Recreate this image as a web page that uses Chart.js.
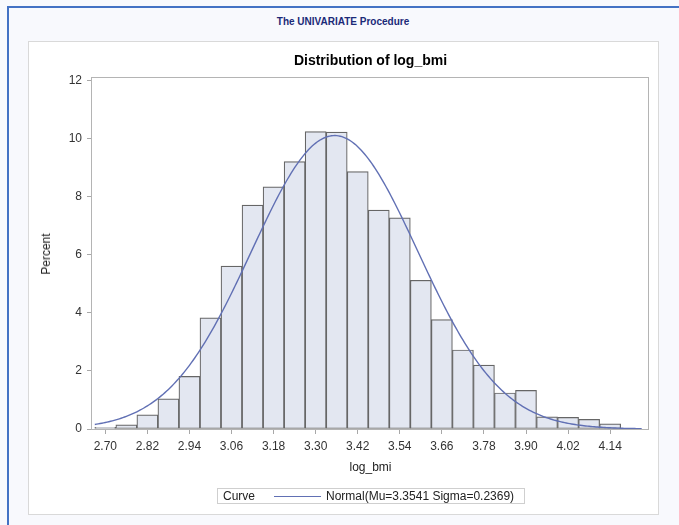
<!DOCTYPE html>
<html>
<head>
<meta charset="UTF-8">
<title>Distribution of log_bmi</title>
<script src="https://cdn.jsdelivr.net/npm/chart.js"></script>
<style>
  body { margin: 0; width: 679px; height: 525px; overflow: hidden; position: relative;
         background: #f8f9fd; font-family: "Liberation Sans", Arial, sans-serif; }
  .frame { position: absolute; left: 7px; top: 6px; right: 0; bottom: 0;
           border-top: 2px solid #4472c4; border-left: 2px solid #4472c4; }
  .proc { position: absolute; top: 16px; left: 0; width: 686px; text-align: center;
          font-size: 10px; font-weight: bold; color: #1b2a78; }
  .panel { position: absolute; left: 28px; top: 41px; width: 629px; height: 472px;
           border: 1px solid #d9d9d9; background: #fff; }
  .panel canvas { position: absolute; left: 0; top: 0; }
  .title { position: absolute; left: 0; top: 9px; width: 683px; text-align: center;
           font-size: 14px; font-weight: bold; color: #000; line-height: 18px; }
  .ylab { position: absolute; left: 17px; top: 212px; width: 0; height: 0; }
  .ylab span { position: absolute; transform: translate(-50%, -50%) rotate(-90deg);
               white-space: nowrap; font-size: 12px; color: #222; }
  .xlab { position: absolute; left: 0; top: 418px; width: 683px; text-align: center;
          font-size: 12px; color: #222; }
  .legend { position: absolute; left: 188px; top: 446px; width: 306px; height: 14px;
            border: 1px solid #cfcfcf; font-size: 12px; color: #222; line-height: 14px; }
  .legend .k { position: absolute; left: 5px; top: 0; }
  .legend .ln { position: absolute; left: 56px; top: 7px; width: 47px; height: 0;
                border-top: 1px solid #6170b4; }
  .legend .v { position: absolute; left: 108px; top: 0; white-space: nowrap; }
</style>
</head>
<body>
<div class="frame"></div>
<div class="proc">The UNIVARIATE Procedure</div>
<div class="panel">
  <canvas id="hist" width="629" height="472"></canvas>
  <div class="title">Distribution of log_bmi</div>
  <div class="ylab"><span>Percent</span></div>
  <div class="xlab">log_bmi</div>
  <div class="legend">
    <span class="k">Curve</span><span class="ln"></span>
    <span class="v">Normal(Mu=3.3541 Sigma=0.2369)</span>
  </div>
</div>
<script>
  // histogram bins (midpoints) and percent of observations in each
  const binMid = [2.70, 2.76, 2.82, 2.88, 2.94, 3.00, 3.06, 3.12, 3.18, 3.24, 3.30, 3.36, 3.42,
                  3.48, 3.54, 3.60, 3.66, 3.72, 3.78, 3.84, 3.90, 3.96, 4.02, 4.08, 4.14];
  const percent = [0.06, 0.14, 0.49, 1.04, 1.81, 3.83, 5.61, 7.71, 8.34, 9.21, 10.24, 10.22, 8.86,
                   7.54, 7.27, 5.12, 3.77, 2.72, 2.20, 1.24, 1.33, 0.42, 0.40, 0.33, 0.18];
  const binWidth = 0.06;

  // fitted normal curve
  const mu = 3.3541;
  const sigma = 0.2369;

  const xTicks = [2.70, 2.82, 2.94, 3.06, 3.18, 3.30, 3.42, 3.54, 3.66, 3.78, 3.90, 4.02, 4.14];
  const yTicks = [0, 2, 4, 6, 8, 10, 12];

  // normal density scaled to percent per bin
  const curve = [];
  for (let x = 2.67; x <= 4.231; x += 0.005) {
    const z = (x - mu) / sigma;
    const d = Math.exp(-0.5 * z * z) / (sigma * Math.sqrt(2 * Math.PI));
    curve.push({ x: x, y: 100 * binWidth * d });
  }

  const plotFrame = {
    id: 'plotFrame',
    beforeDatasetsDraw(chart) {
      const a = chart.chartArea;
      const c = chart.ctx;
      c.save();
      c.strokeStyle = '#b4b4b4';
      c.lineWidth = 1;
      c.strokeRect(Math.round(a.left) - 0.5, Math.round(a.top) + 0.5,
                   Math.round(a.right - a.left) + 1, Math.round(a.bottom - a.top));
      c.restore();
    }
  };

  const tickFont = { family: '"Liberation Sans", Arial, sans-serif', size: 12 };

  new Chart(document.getElementById('hist'), {
    type: 'bar',
    data: {
      datasets: [{
        type: 'line',
        data: curve,
        borderColor: '#6170b4',
        borderWidth: 1.4,
        pointRadius: 0,
        tension: 0,
        order: 0
      }, {
        type: 'bar',
        data: binMid.map((m, i) => ({ x: m, y: percent[i] })),
        backgroundColor: '#e3e7f1',
        borderColor: '#666666',
        borderWidth: 1.2,
        borderSkipped: false,
        barPercentage: 1,
        categoryPercentage: 1,
        order: 1
      }]
    },
    options: {
      responsive: false,
      animation: false,
      events: [],
      layout: { padding: { left: 0, top: 35, right: 10, bottom: 0 } },
      plugins: { legend: { display: false }, tooltip: { enabled: false }, title: { display: false } },
      scales: {
        x: {
          type: 'linear',
          min: 2.662,
          max: 4.248,
          offset: false,
          afterFit(s) { s.height = 85; },
          afterBuildTicks(s) { s.ticks = xTicks.map(v => ({ value: v })); },
          border: { display: false },
          grid: { display: true, drawOnChartArea: false, tickLength: 5, color: '#a8a8a8', offset: false },
          ticks: { font: tickFont, color: '#333', padding: 5, maxRotation: 0,
                   callback: v => v.toFixed(2) }
        },
        y: {
          min: 0,
          max: 12.12,
          afterFit(s) { s.width = 63; },
          afterBuildTicks(s) { s.ticks = yTicks.map(v => ({ value: v })); },
          border: { display: false },
          grid: { display: true, drawOnChartArea: false, tickLength: 5, color: '#a8a8a8' },
          ticks: { font: tickFont, color: '#333', padding: 5 }
        }
      }
    },
    plugins: [plotFrame]
  });
</script>
</body>
</html>
